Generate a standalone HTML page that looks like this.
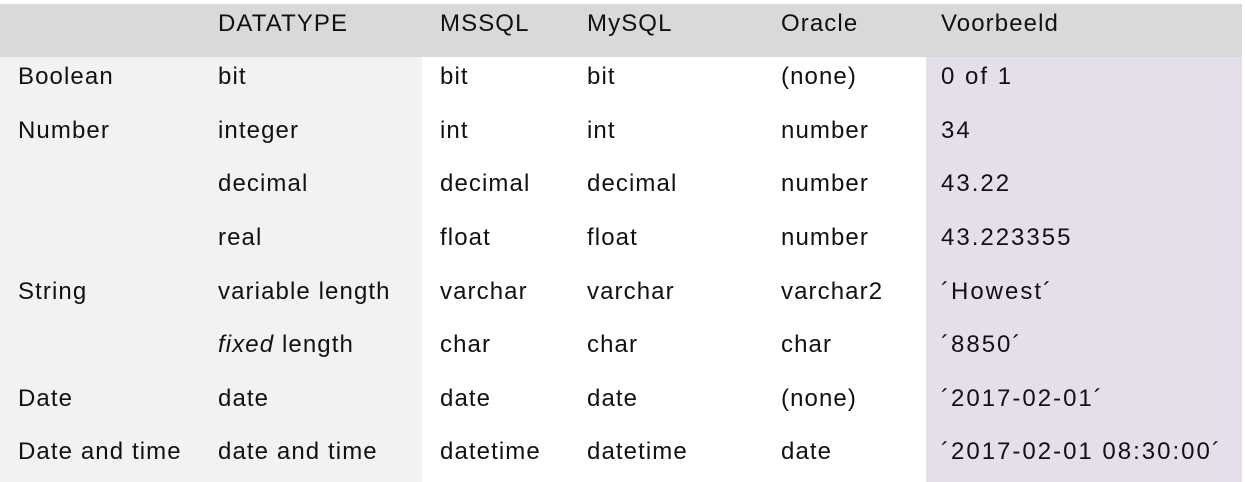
<!DOCTYPE html>
<html><head><meta charset="utf-8"><style>
html,body{margin:0;padding:0;width:1245px;height:482px;background:#fff;overflow:hidden}
body{position:relative;font-family:"Liberation Sans",sans-serif;font-size:24px;letter-spacing:1.1px;color:#111}
.bg{position:absolute}
.t{position:absolute;white-space:nowrap;line-height:28px}
.v{letter-spacing:2px}
</style></head><body>
<div class="bg" style="left:0;top:57px;width:422px;height:425px;background:#f2f2f2"></div>
<div class="bg" style="left:926px;top:57px;width:316px;height:425px;background:#e5dfec"></div>
<div class="bg" style="left:0;top:4px;width:1242px;height:53px;background:#d9d9d9"></div>
<div id="c"></div>
<script>
var xs=[18,218,440,587,781,941];
var tops=[57,111,164,218,272,325,379,432];
var rows=[
["","DATATYPE","MSSQL","MySQL","Oracle","Voorbeeld"],
["Boolean","bit","bit","bit","(none)","0 of 1"],
["Number","integer","int","int","number","34"],
["","decimal","decimal","decimal","number","43.22"],
["","real","float","float","number","43.223355"],
["String","variable length","varchar","varchar","varchar2","´Howest´"],
["","<i>fixed</i> length","char","char","char","´8850´"],
["Date","date","date","date","(none)","´2017-02-01´"],
["Date and time","date and time","datetime","datetime","date","´2017-02-01 08:30:00´"]];
var h="";
rows.forEach(function(r,i){var y=i==0?10:tops[i-1]+6;
r.forEach(function(c,j){if(c)h+='<div class="t'+(j==5&&i>0?' v':'')+'" style="left:'+xs[j]+'px;top:'+y+'px">'+c+'</div>';});});
document.getElementById("c").innerHTML=h;
</script>
</body></html>
